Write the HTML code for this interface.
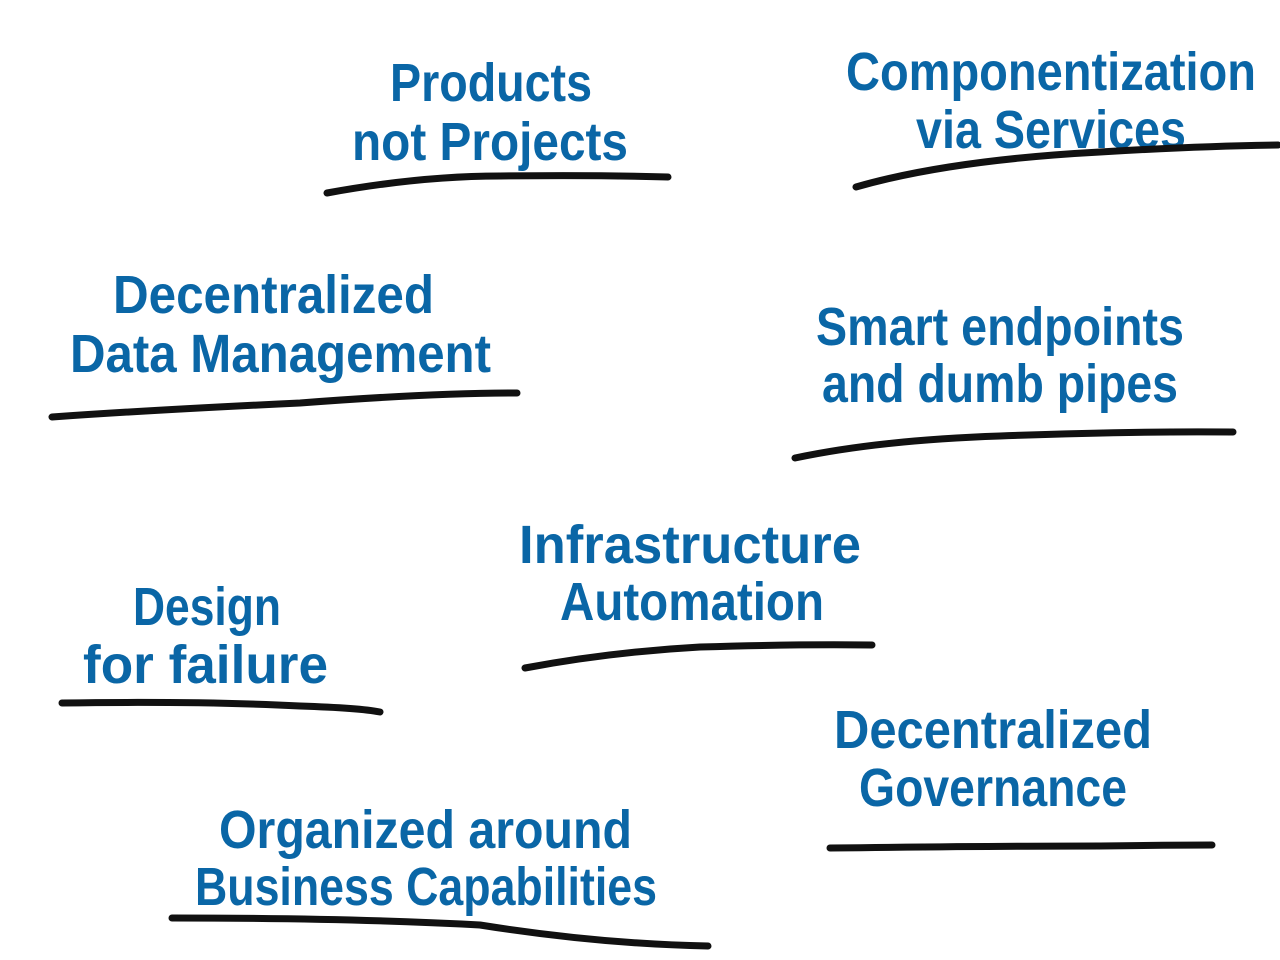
<!DOCTYPE html>
<html><head><meta charset="utf-8"><style>
html,body{margin:0;padding:0;background:#fff;width:1280px;height:960px;overflow:hidden}
svg text{font-family:"Liberation Sans Narrow","Liberation Sans",sans-serif;font-weight:bold;font-size:54px;fill:#0a66a6}
path{fill:none;stroke:#111;stroke-width:7;stroke-linecap:round}
</style></head><body>
<svg width="1280" height="960" viewBox="0 0 1280 960" xmlns="http://www.w3.org/2000/svg">
<text x="390" y="101" textLength="202" lengthAdjust="spacingAndGlyphs">Products</text>
<text x="352" y="160" textLength="276" lengthAdjust="spacingAndGlyphs">not Projects</text>
<path d="M327 193 Q420 176 500 176 Q600 175 668 177"/>

<text x="846" y="90" textLength="410" lengthAdjust="spacingAndGlyphs">Componentization</text>
<text x="916" y="148" textLength="270" lengthAdjust="spacingAndGlyphs">via Services</text>
<path d="M856 187 Q950 160 1100 152 Q1200 146 1278 145"/>

<text x="113" y="313" textLength="321" lengthAdjust="spacingAndGlyphs">Decentralized</text>
<text x="70" y="372" textLength="421" lengthAdjust="spacingAndGlyphs">Data Management</text>
<path d="M52 417 Q150 410 300 403 Q430 393 517 393"/>

<text x="816" y="345" textLength="368" lengthAdjust="spacingAndGlyphs">Smart endpoints</text>
<text x="822" y="402" textLength="356" lengthAdjust="spacingAndGlyphs">and dumb pipes</text>
<path d="M795 458 Q880 440 1000 436 Q1130 431 1233 432"/>

<text x="519" y="563" textLength="342" lengthAdjust="spacingAndGlyphs">Infrastructure</text>
<text x="560" y="620" textLength="264" lengthAdjust="spacingAndGlyphs">Automation</text>
<path d="M525 668 Q610 652 700 647 Q800 644 872 645"/>

<text x="133" y="625" textLength="148" lengthAdjust="spacingAndGlyphs">Design</text>
<text x="83" y="683" textLength="245" lengthAdjust="spacingAndGlyphs">for failure</text>
<path d="M62 703 Q200 701 300 706 Q360 708 380 712"/>

<text x="834" y="748" textLength="318" lengthAdjust="spacingAndGlyphs">Decentralized</text>
<text x="859" y="806" textLength="268" lengthAdjust="spacingAndGlyphs">Governance</text>
<path d="M830 848 Q1000 846 1100 846 Q1170 845 1212 845"/>

<text x="219" y="848" textLength="413" lengthAdjust="spacingAndGlyphs">Organized around</text>
<text x="195" y="905" textLength="462" lengthAdjust="spacingAndGlyphs">Business Capabilities</text>
<path d="M172 918 Q350 918 480 925 Q600 944 708 946"/>
</svg>
</body></html>
